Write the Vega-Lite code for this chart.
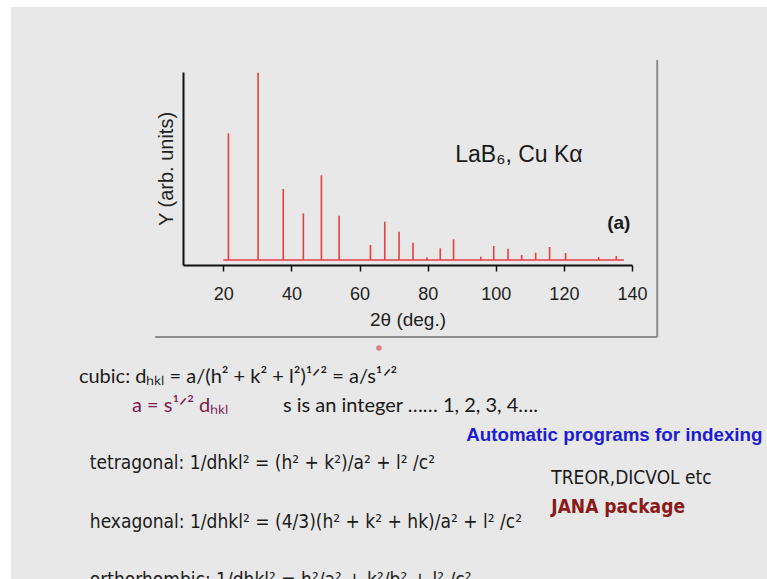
{
  "$schema": "https://vega.github.io/schema/vega-lite/v6.json",
  "autosize": {"type": "none"},
  "width": 449,
  "height": 193,
  "padding": {"left": 183, "top": 72, "right": 135, "bottom": 314},
  "background": "#e8e8e8",
  "config": {"view": {"stroke": null}, "font": "Liberation Sans"},
  "layer": [
    {
      "data": {"values": [
        {"x1": -46, "x2": -42.4, "y1": 266, "y2": -315},
        {"x1": -46, "x2": 182, "y1": 266, "y2": 258}
      ]},
      "mark": {"type": "rect", "color": "#ffffff"},
      "encoding": {
        "x": {"field": "x1", "type": "quantitative", "scale": {"domain": [8.16, 140], "nice": false, "zero": false}},
        "x2": {"field": "x2"},
        "y": {"field": "y1", "type": "quantitative", "scale": {"domain": [0, 193], "nice": false}},
        "y2": {"field": "y2"}
      }
    },
    {
      "data": {"values": [
        {"x1": 147.4, "x2": 147.4, "y1": 205, "y2": -72},
        {"x1": 0, "x2": 147.4, "y1": -72, "y2": -72}
      ]},
      "mark": {"type": "rule", "color": "#8c8c8c", "strokeWidth": 2},
      "encoding": {
        "x": {"field": "x1", "type": "quantitative"},
        "x2": {"field": "x2"},
        "y": {"field": "y1", "type": "quantitative"},
        "y2": {"field": "y2"}
      }
    },
    {
      "data": {"values": [{"start": 20, "end": 137.6, "level": 5}]},
      "mark": {"type": "rule", "color": "#e4403f", "strokeWidth": 1.3},
      "encoding": {
        "x": {"field": "start", "type": "quantitative", "axis": {"values": [20, 40, 60, 80, 100, 120, 140], "title": "2θ (deg.)", "domainColor": "#111", "domainWidth": 2, "tickColor": "#111", "tickWidth": 1.5, "tickSize": 6, "labelFontSize": 18, "labelColor": "#222", "labelPadding": 14, "titleFontSize": 19, "titleFontWeight": "normal", "titleColor": "#222", "titlePadding": 7, "grid": false, "labelFlush": false}},
        "x2": {"field": "end"},
        "y": {"field": "level", "type": "quantitative", "axis": {"title": "Y (arb. units)", "labels": false, "ticks": false, "grid": false, "domainColor": "#111", "domainWidth": 2, "titleFontSize": 20, "titleFontWeight": "normal", "titleColor": "#222", "titlePadding": 7}}
      }
    },
    {
      "data": {"values": [
        {"tt": 21.5, "base": 5, "top": 131.7},
        {"tt": 30.2, "base": 5, "top": 192.3},
        {"tt": 37.6, "base": 5, "top": 76},
        {"tt": 43.5, "base": 5, "top": 51.7},
        {"tt": 48.8, "base": 5, "top": 89.7},
        {"tt": 54.0, "base": 5, "top": 49.3},
        {"tt": 63.2, "base": 5, "top": 20},
        {"tt": 67.4, "base": 5, "top": 43.3},
        {"tt": 71.6, "base": 5, "top": 33.3},
        {"tt": 75.7, "base": 5, "top": 22.3},
        {"tt": 79.8, "base": 5, "top": 7.7},
        {"tt": 83.7, "base": 5, "top": 16.7},
        {"tt": 87.6, "base": 5, "top": 25.7},
        {"tt": 95.6, "base": 5, "top": 8.3},
        {"tt": 99.4, "base": 5, "top": 19},
        {"tt": 103.6, "base": 5, "top": 16.3},
        {"tt": 107.6, "base": 5, "top": 10},
        {"tt": 111.7, "base": 5, "top": 12.3},
        {"tt": 115.8, "base": 5, "top": 18},
        {"tt": 120.5, "base": 5, "top": 12},
        {"tt": 130.2, "base": 5, "top": 8},
        {"tt": 135.4, "base": 5, "top": 9}
      ]},
      "mark": {"type": "rule", "color": "#e4403f", "strokeWidth": 1.6},
      "encoding": {
        "x": {"field": "tt", "type": "quantitative"},
        "y": {"field": "base", "type": "quantitative"},
        "y2": {"field": "top"}
      }
    },
    {
      "data": {"values": [{"tx": 88.1, "ty": 103, "label": "LaB₆, Cu Kα"}]},
      "mark": {"type": "text", "align": "left", "baseline": "alphabetic", "fontSize": 23, "font": "Liberation Sans", "color": "#1a1a1a"},
      "encoding": {
        "x": {"field": "tx", "type": "quantitative"},
        "y": {"field": "ty", "type": "quantitative"},
        "text": {"field": "label"}
      }
    },
    {
      "data": {"values": [{"tx": 132.7, "ty": 36, "label": "(a)"}]},
      "mark": {"type": "text", "align": "left", "baseline": "alphabetic", "fontSize": 19, "fontWeight": "bold", "font": "Liberation Sans", "color": "#1a1a1a"},
      "encoding": {
        "x": {"field": "tx", "type": "quantitative"},
        "y": {"field": "ty", "type": "quantitative"},
        "text": {"field": "label"}
      }
    },
    {
      "data": {"values": [{"tx": 65.7, "ty": -83}]},
      "mark": {"type": "point", "filled": true, "color": "#e05060", "size": 30},
      "encoding": {
        "x": {"field": "tx", "type": "quantitative"},
        "y": {"field": "ty", "type": "quantitative"}
      }
    },
    {
      "data": {"values": [
        {"tx": -22.4, "ty": -118, "label": "cubic: dₕₖₗ = a/(h² + k² + l²)¹ᐟ² = a/s¹ᐟ²"},
        {"tx": 37.5, "ty": -147, "label": "s is an integer …… 1, 2, 3, 4…."}
      ]},
      "mark": {"type": "text", "align": "left", "baseline": "alphabetic", "fontSize": 20, "font": "Lato", "color": "#1a1a1a"},
      "encoding": {
        "x": {"field": "tx", "type": "quantitative"},
        "y": {"field": "ty", "type": "quantitative"},
        "text": {"field": "label"}
      }
    },
    {
      "data": {"values": [{"tx": -6.8, "ty": -147, "label": "a = s¹ᐟ² dₕₖₗ"}]},
      "mark": {"type": "text", "align": "left", "baseline": "alphabetic", "fontSize": 20, "font": "Lato", "color": "#7b2050"},
      "encoding": {
        "x": {"field": "tx", "type": "quantitative"},
        "y": {"field": "ty", "type": "quantitative"},
        "text": {"field": "label"}
      }
    },
    {
      "data": {"values": [{"tx": 91.3, "ty": -176, "label": "Automatic programs for indexing"}]},
      "mark": {"type": "text", "align": "left", "baseline": "alphabetic", "fontSize": 18.8, "fontWeight": "bold", "font": "Liberation Sans", "color": "#1c1cd6"},
      "encoding": {
        "x": {"field": "tx", "type": "quantitative"},
        "y": {"field": "ty", "type": "quantitative"},
        "text": {"field": "label"}
      }
    },
    {
      "data": {"values": [
        {"tx": -19.2, "ty": -204, "label": "tetragonal: 1/dhkl² = (h² + k²)/a² + l² /c²"},
        {"tx": -19.2, "ty": -263, "label": "hexagonal: 1/dhkl² = (4/3)(h² + k² + hk)/a² + l² /c²"},
        {"tx": -19.2, "ty": -321, "label": "orthorhombic: 1/dhkl² = h²/a² + k²/b² + l² /c²"},
        {"tx": 116.3, "ty": -219, "label": "TREOR,DICVOL etc"}
      ]},
      "mark": {"type": "text", "align": "left", "baseline": "alphabetic", "fontSize": 19, "font": "'DejaVu Sans Condensed', 'Liberation Sans'", "color": "#1a1a1a"},
      "encoding": {
        "x": {"field": "tx", "type": "quantitative"},
        "y": {"field": "ty", "type": "quantitative"},
        "text": {"field": "label"}
      }
    },
    {
      "data": {"values": [{"tx": 116.3, "ty": -248, "label": "JANA package"}]},
      "mark": {"type": "text", "align": "left", "baseline": "alphabetic", "fontSize": 19, "fontWeight": "bold", "font": "'DejaVu Sans Condensed', 'Liberation Sans'", "color": "#8b1a1a"},
      "encoding": {
        "x": {"field": "tx", "type": "quantitative"},
        "y": {"field": "ty", "type": "quantitative"},
        "text": {"field": "label"}
      }
    }
  ]
}
